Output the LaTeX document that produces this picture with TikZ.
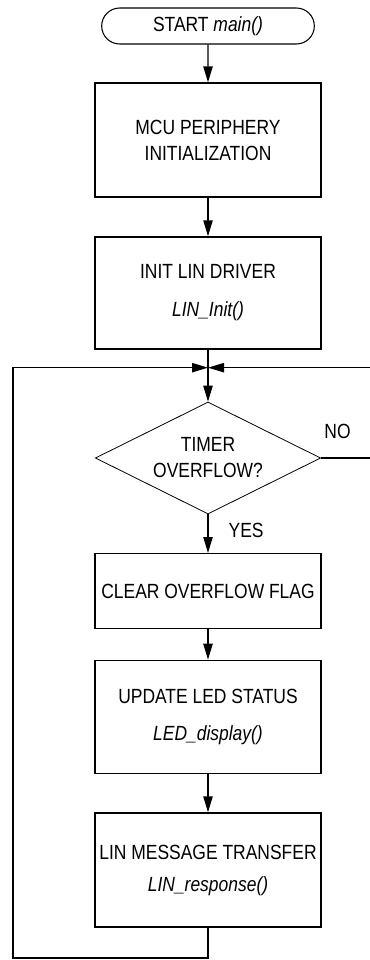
\documentclass[tikz,border=0pt]{standalone}
\usepackage{fontspec}
\setmainfont{Liberation Sans}[FakeStretch=0.85]
\usetikzlibrary{arrows.meta,shapes.geometric,shapes.misc,positioning}
\tikzset{%
  >={Triangle[width=7pt,length=12pt]},
  % Specifications for style of nodes:
      base/.style = {draw=black, line width=1pt, align=center, inner sep=2pt,
                     font=\fontsize{15.4pt}{19.5pt}\selectfont},
  terminal/.style = {base, rounded rectangle, line width=0.8pt,
                     minimum width=163.5pt, minimum height=27pt},
   process/.style = {base, rectangle, minimum width=169.5pt,
                     minimum height=85.5pt},
  decision/.style = {base, diamond, aspect=2, line width=0.6pt, inner sep=0pt,
                     minimum width=169pt, minimum height=84pt},
    answer/.style = {inner sep=2pt, font=\fontsize{15.4pt}{19.5pt}\selectfont},
}

\begin{document}
\begin{tikzpicture}[node distance=114.75pt, line width=1pt]
  \useasboundingbox (0,0) rectangle (277.5pt,-720pt);
  % Specification of nodes (position, etc.)
  \node (start)       [terminal] at (156pt,-19.5pt)   {START \textit{main()}};
  \node (periphInit)  [process, below of=start, yshift=29.25pt]
                                                     {MCU PERIPHERY\\INITIALIZATION};
  \node (linInit)     [process, below of=periphInit, minimum height=84pt]
                                                     {INIT LIN DRIVER\\[9pt]\textit{LIN\_Init()}};
  \node (timerCheck)  [decision, below of=linInit, yshift=-9pt]
                                                     {TIMER\\OVERFLOW?};
  \node (clearFlag)   [process, below of=timerCheck, yshift=15pt,
                       minimum height=56pt]          {CLEAR OVERFLOW FLAG};
  \node (ledUpdate)   [process, below of=clearFlag, yshift=20.25pt,
                       minimum height=85pt]          {UPDATE LED STATUS\\[8pt]\textit{LED\_display()}};
  \node (linTransfer) [process, below of=ledUpdate]  {LIN MESSAGE TRANSFER\\[4.5pt]\textit{LIN\_response()}};
  \node (no)          [answer, above right=12pt and 0pt of timerCheck.east]  {NO};
  \node (yes)         [answer, below right=4pt and 13pt of timerCheck.south] {YES};

  % Points for the loop back to the test
  \path (linInit.south) ++(0,-13.5pt) coordinate (join);
  \coordinate (loopL) at (9.75pt,-718.5pt);
  \coordinate (loopR) at (278.5pt,0);

  % Specification of lines between nodes specified above
  \draw[->]       (start) -- (periphInit);
  \draw[->]  (periphInit) -- (linInit);
  \draw[->]     (linInit) -- (timerCheck);
  \draw[->]  (timerCheck) -- (clearFlag);
  \draw[->]   (clearFlag) -- (ledUpdate);
  \draw[->]   (ledUpdate) -- (linTransfer);
  \draw[->] (linTransfer) |- (loopL) |- (join);
  \draw[->] (timerCheck.east) -| (loopR |- join) -- (join);
\end{tikzpicture}
\end{document}
